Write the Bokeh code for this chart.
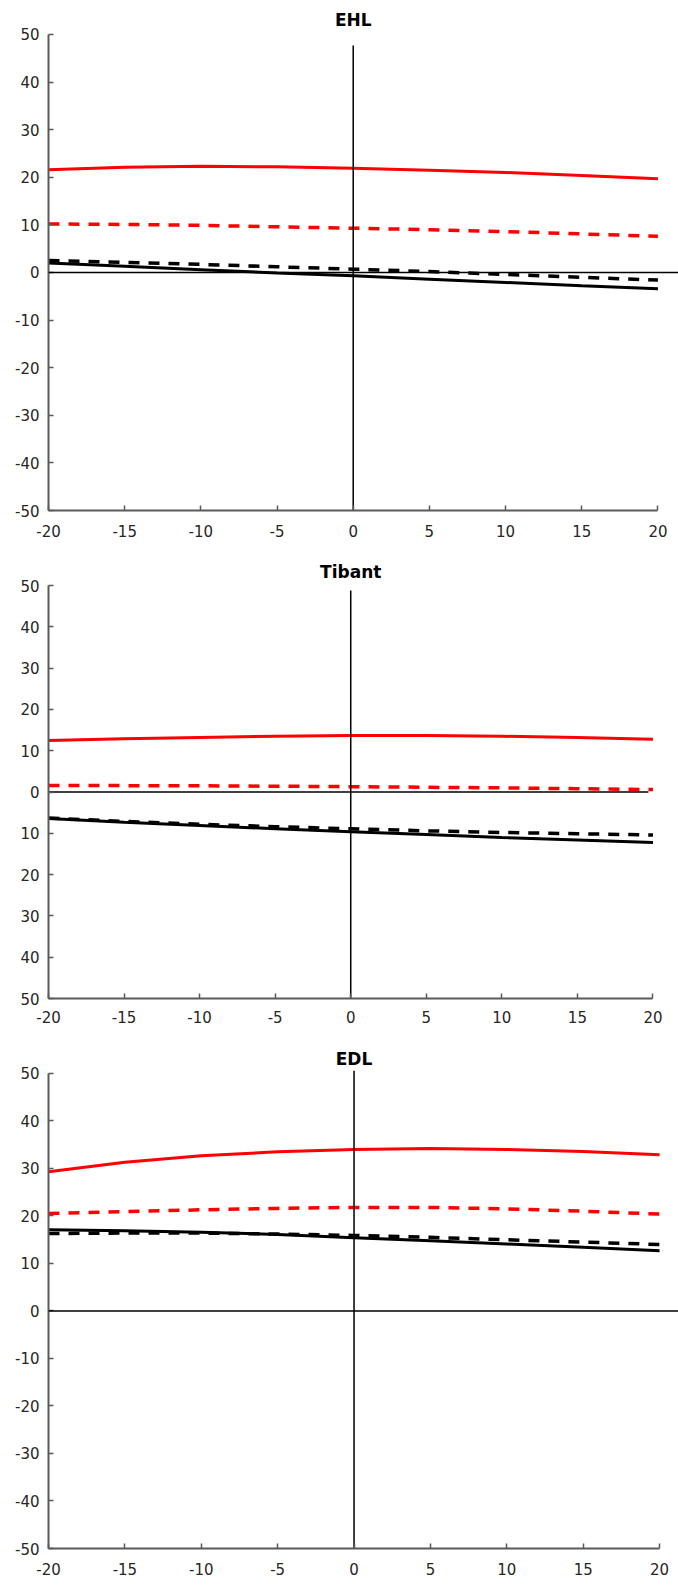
from bokeh.plotting import figure
from bokeh.layouts import column
from bokeh.models import Range1d, FixedTicker, Label, Span
from bokeh.embed import file_html
from bokeh.resources import INLINE

# ---------------- data ----------------
x_vals = [-20, -15, -10, -5, 0, 5, 10, 15, 20]
x_ticks = [-20, -15, -10, -5, 0, 5, 10, 15, 20]
x_labels = ["-20", "-15", "-10", "-5", "0", "5", "10", "15", "20"]
y_ticks = [-50, -40, -30, -20, -10, 0, 10, 20, 30, 40, 50]
y_labels_std = ["-50", "-40", "-30", "-20", "-10", "0", "10", "20", "30", "40", "50"]
y_labels_tibant = ["50", "40", "30", "20", "10", "0", "10", "20", "30", "40", "50"]

titles = ["EHL", "Tibant", "EDL"]

ehl_red_solid = [21.6, 22.1, 22.3, 22.2, 21.9, 21.5, 21.0, 20.4, 19.7]
ehl_red_dash = [10.2, 10.1, 9.9, 9.6, 9.3, 9.0, 8.6, 8.1, 7.6]
ehl_black_solid = [2.0, 1.3, 0.6, -0.1, -0.7, -1.4, -2.1, -2.8, -3.4]
ehl_black_dash = [2.5, 2.1, 1.7, 1.2, 0.7, 0.2, -0.4, -1.0, -1.6]

tib_red_solid = [12.5, 12.9, 13.2, 13.5, 13.7, 13.7, 13.5, 13.2, 12.8]
tib_red_dash = [1.6, 1.55, 1.5, 1.4, 1.3, 1.15, 1.0, 0.8, 0.6]
tib_black_solid = [-6.4, -7.3, -8.1, -8.9, -9.6, -10.3, -11.0, -11.6, -12.2]
tib_black_dash = [-6.3, -7.1, -7.8, -8.4, -8.9, -9.4, -9.8, -10.1, -10.4]

edl_red_solid = [29.3, 31.3, 32.7, 33.5, 34.0, 34.2, 34.0, 33.6, 32.9]
edl_red_dash = [20.5, 20.9, 21.3, 21.6, 21.8, 21.8, 21.5, 21.0, 20.4]
edl_black_solid = [17.1, 16.9, 16.6, 16.1, 15.4, 14.8, 14.1, 13.4, 12.7]
edl_black_dash = [16.3, 16.4, 16.4, 16.2, 15.9, 15.5, 15.0, 14.5, 14.0]

# ---------------- layout / style ----------------
FIG_W = 678
TICK_FONT = "DejaVu Sans"
AXIS_COLOR = "#5a5a5a"
LABEL_COLOR = "#262626"

panels = [
    dict(title=titles[0], rs=ehl_red_solid, rd=ehl_red_dash, bs=ehl_black_solid, bd=ehl_black_dash,
         ylab=y_labels_std, h=548, top=4, bottom=38, left=42, x_end=21.35, y_end=56.3,
         vtop=47.7, hline_end=None, xstand=14),
    dict(title=titles[1], rs=tib_red_solid, rd=tib_red_dash, bs=tib_black_solid, bd=tib_black_dash,
         ylab=y_labels_tibant, h=492, top=4, bottom=42, left=42, x_end=21.69, y_end=58.0,
         vtop=48.8, hline_end=19.7, xstand=12),
    dict(title=titles[2], rs=edl_red_solid, rd=edl_red_dash, bs=edl_black_solid, bd=edl_black_dash,
         ylab=y_labels_std, h=539, top=4, bottom=31, left=48, x_end=21.24, y_end=56.1,
         vtop=50.6, hline_end=None, xstand=14),
]


def make_panel(cfg):
    p = figure(width=FIG_W, height=cfg["h"], output_backend="svg", toolbar_location=None,
               x_range=Range1d(-20, cfg["x_end"]), y_range=Range1d(-50, cfg["y_end"]),
               min_border_left=cfg["left"], min_border_right=0,
               min_border_top=cfg["top"], min_border_bottom=cfg["bottom"])
    p.outline_line_color = None
    p.grid.visible = False
    p.background_fill_color = "white"
    p.border_fill_color = "white"

    for ax in (p.xaxis[0], p.yaxis[0]):
        ax.axis_line_color = AXIS_COLOR
        ax.axis_line_width = 2
        ax.major_tick_line_color = AXIS_COLOR
        ax.major_tick_line_width = 1.5
        ax.major_tick_in = 5
        ax.major_tick_out = 0
        ax.minor_tick_line_color = None
        ax.major_label_text_font = TICK_FONT
        ax.major_label_text_font_size = "15px"
        ax.major_label_text_color = LABEL_COLOR

    p.xaxis[0].bounds = (-20, 20)
    p.xaxis[0].ticker = FixedTicker(ticks=x_ticks)
    p.xaxis[0].major_label_overrides = {t: l for t, l in zip(x_ticks, x_labels)}
    p.xaxis[0].major_label_standoff = cfg["xstand"]

    p.yaxis[0].bounds = (-50, 50)
    p.yaxis[0].ticker = FixedTicker(ticks=y_ticks)
    p.yaxis[0].major_label_overrides = {t: l for t, l in zip(y_ticks, cfg["ylab"])}
    p.yaxis[0].major_label_standoff = 9

    # data lines
    p.line(x_vals, cfg["rs"], line_color="#ff0000", line_width=3)
    p.line(x_vals, cfg["rd"], line_color="#ff0000", line_width=3.5, line_dash="11 9")
    p.line(x_vals, cfg["bs"], line_color="black", line_width=3)
    p.line(x_vals, cfg["bd"], line_color="black", line_width=3.5, line_dash="11 9")

    # reference cross lines
    if cfg["hline_end"] is None:
        p.add_layout(Span(location=0, dimension="width", line_color="black", line_width=1.5))
    else:
        p.segment(x0=[-20], y0=[0], x1=[cfg["hline_end"]], y1=[0], line_color="black", line_width=1.5)
    p.segment(x0=[0], y0=[-50], x1=[0], y1=[cfg["vtop"]], line_color="black", line_width=1.5)

    # title centred on x = 0, just above the top of the axis
    p.add_layout(Label(x=0, y=50, y_offset=14, text=cfg["title"], text_align="center",
                       text_baseline="alphabetic", text_font=TICK_FONT,
                       text_font_size="17px", text_font_style="bold", text_color="black"))
    return p


figs = [make_panel(c) for c in panels]
layout = column(*figs, spacing=0)

open("out.html", "w").write(file_html(layout, INLINE))
